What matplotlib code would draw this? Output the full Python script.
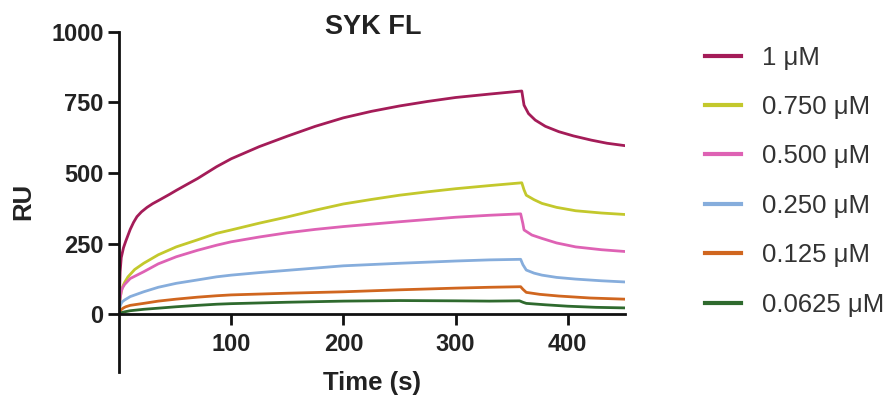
import matplotlib
matplotlib.use("Agg")
import matplotlib.pyplot as plt

plt.rcParams['font.family'] = ['Liberation Sans', 'DejaVu Sans']

title = "SYK FL"
x_label = "Time (s)"
y_label = "RU"
x_ticks = [100, 200, 300, 400]
y_ticks = [0, 250, 500, 750, 1000]

labels = ["1 μM", "0.750 μM", "0.500 μM", "0.250 μM", "0.125 μM", "0.0625 μM"]
colors = ["#A41C58", "#C3C82C", "#DE62B4", "#86ADDC", "#D0661F", "#2F6A2E"]

t_1uM = [0, 0.5, 1, 2, 4, 6, 10, 13, 16, 20, 25, 30, 36, 45, 51, 60, 70, 87, 100, 125, 150, 175, 200, 225, 250, 275, 300, 330, 359,
         361, 365, 371, 380, 392, 405, 421, 435, 450]
ru_1uM = [0, 80, 150, 200, 235, 258, 300, 325, 345, 362, 378, 391, 404, 424, 438, 458, 480, 522, 550, 593, 630, 665, 695, 718, 737, 753, 767, 779, 790,
          740, 710, 687, 665, 646, 631, 616, 605, 597]

t_0750 = [0, 0.5, 1, 2, 3, 5, 8, 14, 22, 35, 51, 70, 87, 100, 125, 150, 175, 200, 225, 250, 275, 300, 330, 359,
          361, 363, 370, 377, 390, 407, 430, 450]
ru_0750 = [0, 30, 55, 80, 95, 112, 132, 158, 180, 210, 238, 263, 286, 298, 322, 344, 368, 390, 406, 421, 433, 444, 455, 465,
           440, 421, 405, 392, 378, 366, 358, 353]

t_0500 = [0, 0.5, 1, 2, 3, 5, 10, 22, 35, 51, 70, 87, 100, 125, 150, 175, 200, 250, 300, 330, 358,
          360, 361, 368, 377, 390, 407, 430, 450]
ru_0500 = [0, 30, 55, 80, 92, 105, 126, 150, 178, 203, 226, 244, 256, 273, 288, 300, 310, 327, 343, 350, 355,
           320, 298, 280, 268, 252, 238, 228, 222]

t_0250 = [0, 0.5, 1, 2, 3, 5, 10, 22, 35, 51, 70, 87, 100, 125, 150, 175, 200, 250, 300, 330, 358,
          360, 363, 370, 377, 390, 407, 430, 450]
ru_0250 = [0, 15, 28, 38, 44, 50, 62, 79, 95, 109, 121, 132, 138, 147, 155, 163, 171, 180, 188, 192, 194,
           175, 156, 145, 138, 130, 124, 118, 114]

t_0125 = [0, 1, 2, 4, 6, 10, 22, 35, 51, 70, 87, 100, 150, 200, 250, 300, 330, 358,
          360, 363, 375, 392, 420, 450]
ru_0125 = [0, 10, 16, 22, 26, 31, 38, 46, 53, 60, 65, 68, 74, 79, 86, 92, 95, 97,
           88, 77, 70, 64, 57, 53]

t_00625 = [0, 2, 5, 10, 22, 35, 51, 70, 87, 100, 150, 200, 250, 300, 330, 357,
           360, 363, 380, 400, 425, 450]
ru_00625 = [0, 5, 8, 12, 17, 21, 26, 31, 35, 37, 42, 46, 48, 47, 46, 47,
            42, 38, 33, 28, 24, 22]

series = [(t_1uM, ru_1uM), (t_0750, ru_0750), (t_0500, ru_0500),
          (t_0250, ru_0250), (t_0125, ru_0125), (t_00625, ru_00625)]

fig = plt.figure(figsize=(8.93, 3.96), dpi=100)
W, H = 893, 396
ax = fig.add_axes([119 / W, 1 - 372 / H, (625 - 119) / W, (372 - 31.7) / H])

for (t, ru), c, lab in zip(series, colors, labels):
    ax.plot(t, ru, color=c, lw=2.0, label=lab, solid_joinstyle='round')

ax.set_xlim(0, 451)
ax.set_ylim(-205, 1000)
ax.spines['top'].set_visible(False)
ax.spines['right'].set_visible(False)
ax.spines['bottom'].set_position(('data', 0))
for s in ('left', 'bottom'):
    ax.spines[s].set_linewidth(2.0)
    ax.spines[s].set_color('#111111')
ax.set_xticks(x_ticks)
ax.set_yticks(y_ticks)
ax.tick_params(axis='both', direction='out', length=7.7, width=2.0, color='#111111',
               labelsize=17, labelcolor='#222222')
ax.tick_params(axis='x', pad=6)
ax.tick_params(axis='y', pad=3.4)
for lbl in ax.get_xticklabels() + ax.get_yticklabels():
    lbl.set_fontweight('bold')

ax.set_xlabel(x_label, fontsize=18.5, fontweight='bold', color='#222222')
ax.xaxis.set_label_coords(0.5, -(383 - 372) / (372 - 31.7))
ax.xaxis.label.set_va('center')
ax.set_ylabel(y_label, fontsize=18.5, fontweight='bold', color='#222222')
ax.yaxis.set_label_coords((23 - 119) / (625 - 119), 0.5)
ax.yaxis.label.set_va('center')

fig.text(373 / W, 1 - 27 / H, title, ha='center', va='center', fontsize=19.5,
         fontweight='bold', color='#222222')

leg = fig.legend(loc='upper left', bbox_to_anchor=(705 / W, 1 - 45.5 / H), frameon=False,
                 fontsize=18.5, handlelength=1.4, handletextpad=0.8, labelspacing=0.99,
                 borderpad=0, borderaxespad=0)
for txt in leg.get_texts():
    txt.set_color('#333333')
for ln in leg.get_lines():
    ln.set_linewidth(3.0)

fig.savefig("out.png", dpi=100)
